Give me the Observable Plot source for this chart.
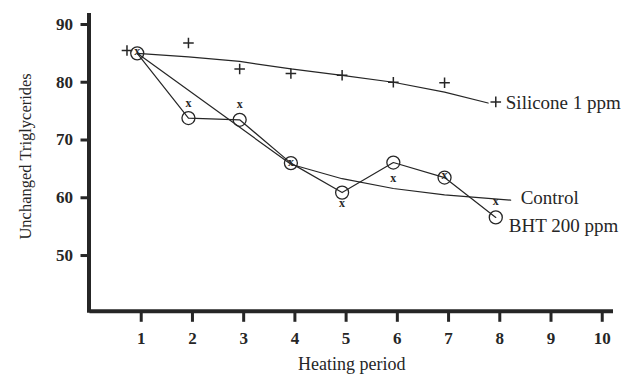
<!DOCTYPE html>
<html><head><meta charset="utf-8">
<script src="https://cdn.jsdelivr.net/npm/d3@7"></script>
<script src="https://cdn.jsdelivr.net/npm/@observablehq/plot@0.6"></script>
<style>body{margin:0;background:#fff}</style>
</head><body><div id="chart"></div>
<script>
// Data
const periods = [1, 2, 3, 4, 5, 6, 7, 8];
const bhtValues = [85, 73.8, 73.5, 66.0, 60.9, 66.1, 63.5, 56.6];
const controlValues = [85, 76.1, 75.8, 65.9, 58.8, 63.0, 63.5, 59.0];
const siliconePeriods = [0.8, 2, 3, 4, 5, 6, 7, 8];
const siliconeValues = [85.5, 86.8, 82.3, 81.5, 81.2, 80.0, 79.9, 76.6];
const siliconeFitPeriods = [1, 2, 3, 4, 5, 6, 7, 7.85];
const siliconeFitValues = [85, 84.4, 83.6, 82.3, 81.2, 80.0, 78.3, 76.4];
const controlFitPeriods = [1, 4, 5, 6, 7, 8.29];
const controlFitValues = [85, 65.8, 63.3, 61.6, 60.5, 59.6];
const xTicks = [1, 2, 3, 4, 5, 6, 7, 8, 9, 10];
const yTicks = [50, 60, 70, 80, 90];
const seriesLabels = ["Silicone 1 ppm", "Control", "BHT 200 ppm"];
const xTitle = "Heating period";
const yTitle = "Unchanged Triglycerides";

const zip = (xs, ys) => xs.map((x, i) => ({x, y: ys[i]}));
const bht = zip(periods, bhtValues);
const control = zip(periods, controlValues);
const silicone = zip(siliconePeriods, siliconeValues);
const siliconeFit = zip(siliconeFitPeriods, siliconeFitValues);
const controlFit = zip(controlFitPeriods, controlFitValues);

const ink = "#262626";
const serif = "Liberation Serif";
const shift = -4;

const chart = Plot.plot({
  width: 626,
  height: 375,
  marginLeft: 89.5,
  marginRight: 13,
  marginTop: 13,
  marginBottom: 62.2,
  x: {domain: [0, 10.22]},
  y: {domain: [40, 91.9]},
  style: {fontFamily: serif, color: ink, background: "#fff"},
  marks: [
    Plot.axisX({ticks: xTicks, tickSize: 9, tickPadding: 10, strokeWidth: 3, fontSize: 17, fontWeight: "bold", label: null}),
    Plot.axisY({ticks: yTicks, tickSize: 9, tickPadding: 8, strokeWidth: 3, fontSize: 17, fontWeight: "bold", label: null}),
    Plot.ruleX([0], {stroke: ink, strokeWidth: 4, dx: -1}),
    Plot.ruleY([40], {stroke: ink, strokeWidth: 4, dy: -2}),
    Plot.line(siliconeFit, {x: "x", y: "y", stroke: ink, strokeWidth: 1.2, dx: shift}),
    Plot.line(controlFit, {x: "x", y: "y", stroke: ink, strokeWidth: 1.2, dx: shift}),
    Plot.line(bht, {x: "x", y: "y", stroke: ink, strokeWidth: 1.2, dx: shift}),
    Plot.dot(bht, {x: "x", y: "y", r: 6.5, stroke: ink, strokeWidth: 1.3, fill: "none", dx: shift}),
    Plot.dot(silicone, {x: "x", y: "y", symbol: "plus", r: 3.5, stroke: ink, strokeWidth: 1.5, dx: shift}),
    Plot.text(control, {x: "x", y: "y", text: () => "x", fontSize: 12, fontWeight: "bold", fill: ink, dx: shift, dy: -2}),
    Plot.text([silicone[silicone.length - 1]], {x: "x", y: "y", text: () => seriesLabels[0], textAnchor: "start", fontSize: 19, fill: ink, dx: shift + 10, dy: 1}),
    Plot.text([controlFit[controlFit.length - 1]], {x: "x", y: "y", text: () => seriesLabels[1], textAnchor: "start", fontSize: 19, fill: ink, dx: shift + 10, dy: -2}),
    Plot.text([bht[bht.length - 1]], {x: "x", y: "y", text: () => seriesLabels[2], textAnchor: "start", fontSize: 19, fill: ink, dx: shift + 13, dy: 8.5}),
    Plot.text([xTitle], {frameAnchor: "bottom", lineAnchor: "middle", dy: 51, fontSize: 18, fill: ink}),
    Plot.text([yTitle], {frameAnchor: "left", textAnchor: "middle", lineAnchor: "middle", rotate: -90, dx: -64.5, dy: -7, fontSize: 16.5, fill: ink})
  ]
});
document.getElementById("chart").appendChild(chart);
</script>
</body></html>
